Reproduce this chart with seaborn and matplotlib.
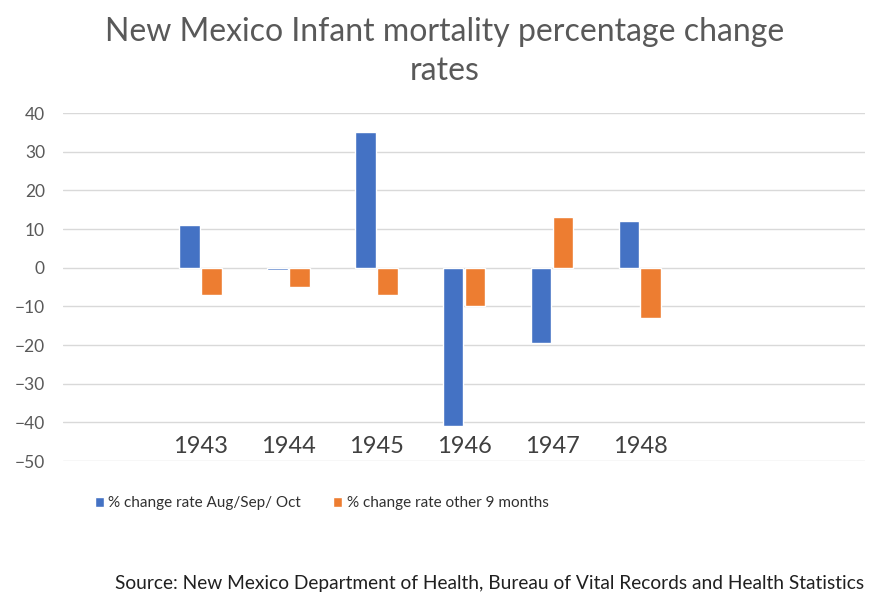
import matplotlib
matplotlib.use('Agg')
import matplotlib.pyplot as plt
import seaborn as sns
import pandas as pd

sns.set_style("white")
plt.rcParams['font.family'] = ['Lato', 'DejaVu Sans']

# == values
years = ['1943', '1944', '1945', '1946', '1947', '1948']
aug_sep_oct = [11, -0.5, 35, -41, -19.5, 12]
other_9_months = [-7, -5, -7, -10, 13, -13]
series_names = ['% change rate Aug/Sep/ Oct', '% change rate other 9 months']
yticks = [40, 30, 20, 10, 0, -10, -20, -30, -40, -50]

df = pd.DataFrame({'year': years * 2,
                   'value': aug_sep_oct + other_9_months,
                   'series': [series_names[0]] * 6 + [series_names[1]] * 6})

fig = plt.figure(figsize=(8.69, 6.05), dpi=100)
ax = fig.add_axes([0.0725, 0.238, 0.923, 0.575])

sns.barplot(data=df, x='year', y='value', hue='series', ax=ax,
            palette=['#4472C4', '#ED7D31'], width=0.5, gap=0.05,
            saturation=1, legend=True)

ax.set_ylim(-50, 40)
ax.set_xlim(-1.56, 7.56)
ax.set_yticks(yticks)
ax.yaxis.grid(True, color='#D9D9D9', lw=1)
ax.set_axisbelow(True)
sns.despine(ax=ax, left=True, bottom=True)
ax.tick_params(axis='y', length=0, pad=13, labelsize=12.5, labelcolor='#595959')
ax.set_xticks([])
ax.set_xlabel('')
ax.set_ylabel('')

# category labels sit inside the plot, near the bottom
for i, yr in enumerate(years):
    ax.text(i, -46.3, yr, ha='center', va='center', fontsize=17, color='#404040')

handles, labels = ax.get_legend_handles_labels()
ax.legend_.remove()
fig.legend(handles, labels, loc='center left', bbox_to_anchor=(0.093, 0.168),
           ncol=2, frameon=False, fontsize=11, handlelength=0.6, handleheight=0.6,
           handletextpad=0.3, columnspacing=2.1, labelcolor='#303030')

fig.text(0.512, 0.915, 'New Mexico Infant mortality percentage change\nrates',
         ha='center', va='center', fontsize=23, color='#595959', linespacing=1.35)
fig.text(0.132, 0.036,
         'Source: New Mexico Department of Health, Bureau of Vital Records and Health Statistics',
         ha='left', va='center', fontsize=13.8, color='#202020')

plt.savefig('out.png', dpi=100)
plt.close()
